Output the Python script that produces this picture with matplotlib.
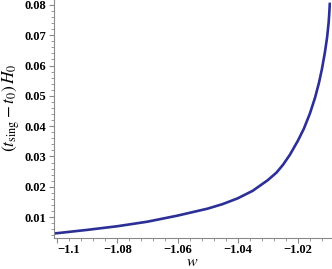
import matplotlib
matplotlib.use("Agg")
import matplotlib.pyplot as plt
from matplotlib.ticker import MultipleLocator, FixedLocator

# values
w = [-1.101, -1.09, -1.08, -1.07, -1.06, -1.05, -1.045, -1.04, -1.035,
     -1.03, -1.0271, -1.025, -1.0227, -1.02, -1.018, -1.016, -1.0143,
     -1.013, -1.012, -1.011, -1.0103, -1.0098, -1.0096, -1.0094]
t_sing = [0.0046, 0.0058, 0.0070, 0.0085, 0.0105, 0.0128, 0.0143, 0.0162, 0.0187,
          0.0222, 0.0247, 0.0272, 0.0305, 0.0352, 0.0392, 0.0442, 0.0494,
          0.0543, 0.0589, 0.0645, 0.0693, 0.0740, 0.0768, 0.0803]

x_ticks = [-1.1, -1.08, -1.06, -1.04, -1.02]
x_labels = ["\u22121.1", "\u22121.08", "\u22121.06", "\u22121.04", "\u22121.02"]
y_ticks = [0.01, 0.02, 0.03, 0.04, 0.05, 0.06, 0.07, 0.08]
y_labels = ["0.01", "0.02", "0.03", "0.04", "0.05", "0.06", "0.07", "0.08"]

plt.rcParams["mathtext.fontset"] = "stix"
plt.rcParams["font.family"] = "Liberation Serif"

fig = plt.figure(figsize=(3.32, 2.69), dpi=100)
ax = fig.add_axes([0.163, 0.115, 0.834, 0.885])

ax.plot(w, t_sing, color="#2b2f96", lw=1.9, solid_joinstyle="round")

ax.set_xlim(-1.101, -1.0090)
ax.set_ylim(0.0031, 0.0816)

for s in ["top", "right"]:
    ax.spines[s].set_visible(False)
for s in ["left", "bottom"]:
    ax.spines[s].set_color("#8a8a8a")
    ax.spines[s].set_linewidth(0.8)

ax.xaxis.set_major_locator(FixedLocator(x_ticks))
ax.set_xticklabels(x_labels, fontsize=9, fontweight="bold")
ax.yaxis.set_major_locator(FixedLocator(y_ticks))
ax.set_yticklabels(y_labels, fontsize=9, fontweight="bold")
ax.xaxis.set_minor_locator(MultipleLocator(0.004))
ax.yaxis.set_minor_locator(MultipleLocator(0.002))
ax.tick_params(which="major", direction="out", length=3.5, color="#8a8a8a", pad=2)
ax.tick_params(axis="x", which="major", pad=1)
ax.tick_params(which="minor", direction="out", length=2, color="#8a8a8a")
ax.get_xticklabels()[0].set_horizontalalignment("left")

# axis titles placed by figure pixel position
fig.text(192 / 332, 1 - 261.5 / 269, r"$w$", fontsize=11.5, ha="center", va="center")
fig.text(11 / 332, 1 - 108 / 269, r"$(t_{\rm sing}-t_0)\,H_0$", fontsize=12.5,
         rotation=90, ha="center", va="center")

fig.savefig("out.png", dpi=100)
